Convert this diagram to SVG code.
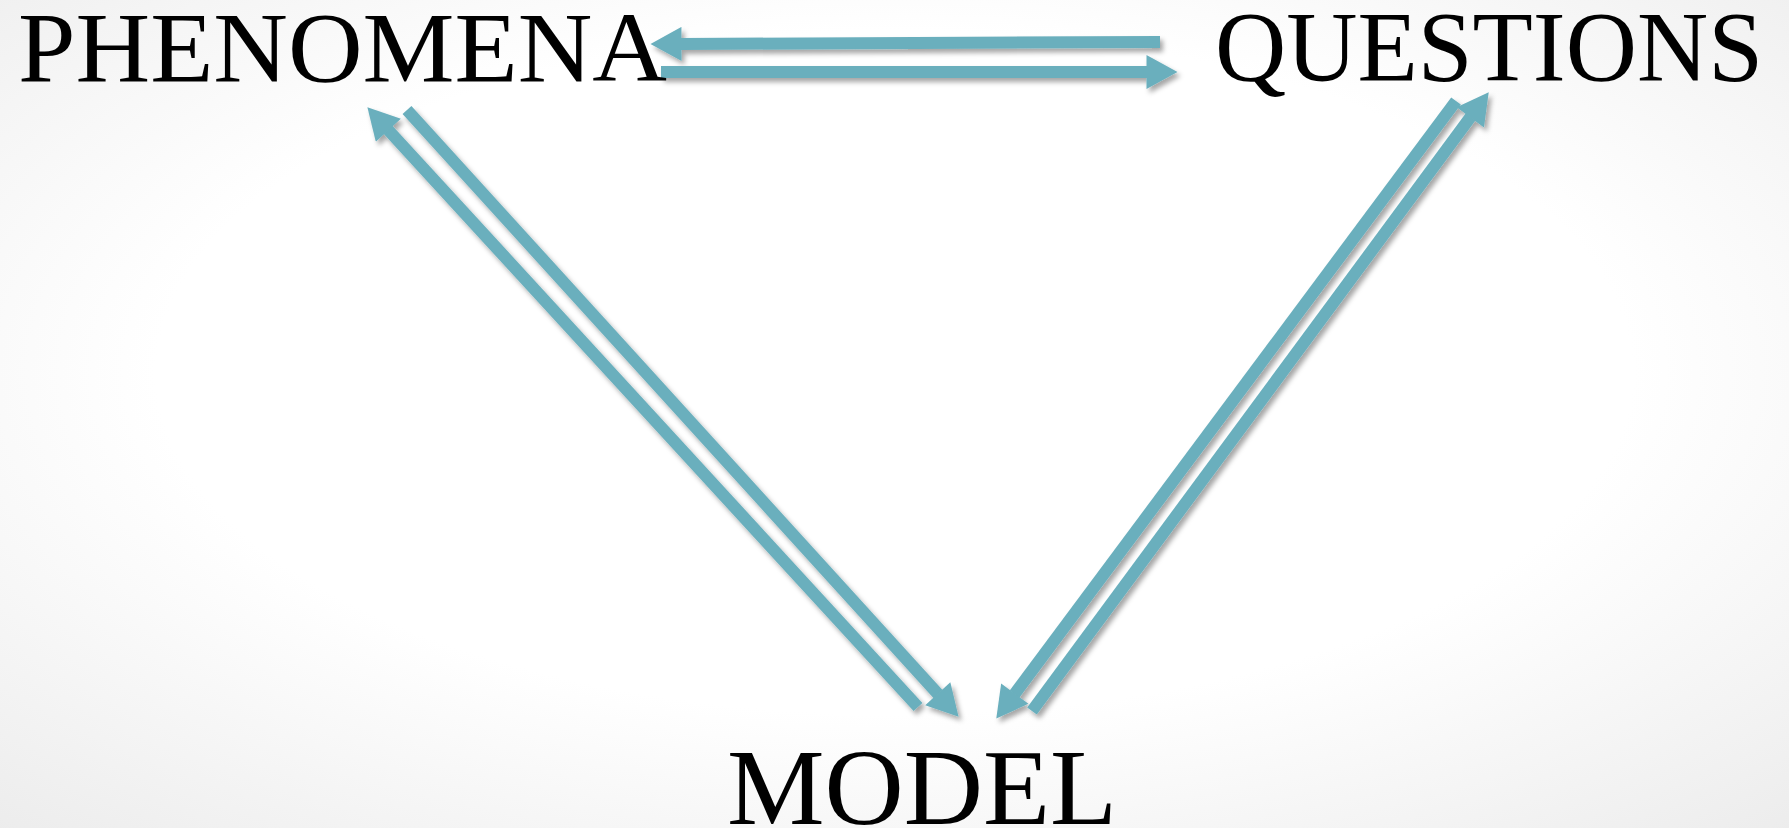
<svg xmlns="http://www.w3.org/2000/svg" width="1789" height="828" viewBox="0 0 1789 828">
<style>
.label{font-family:"Liberation Serif","Times New Roman",serif;fill:#000;}
.arrow{stroke:#6AAFBD;stroke-width:12;stroke-linecap:butt;fill:none;marker-end:url(#head);}
</style>
<defs>
<radialGradient id="bg" cx="50%" cy="45%" r="75%">
<stop offset="0" stop-color="#ffffff"/>
<stop offset="0.55" stop-color="#ffffff"/>
<stop offset="1" stop-color="#ececec"/>
</radialGradient>
<marker id="head" markerUnits="userSpaceOnUse" markerWidth="32" markerHeight="34" viewBox="0 0 31 34" refX="0.5" refY="17" orient="auto">
<path d="M0,0 L31,17 L0,34 Z" fill="#6AAFBD"/>
</marker>
<filter id="shadow" x="-10%" y="-10%" width="120%" height="120%">
<feDropShadow dx="3" dy="4" stdDeviation="2.5" flood-color="#000" flood-opacity="0.35"/>
</filter>
</defs>
<rect width="1789" height="828" fill="url(#bg)"/>
<g id="connectors" filter="url(#shadow)">
<line class="arrow" x1="1160" y1="42" x2="681" y2="43.9"/>
<line class="arrow" x1="661" y1="72" x2="1147" y2="72"/>
<line class="arrow" x1="918" y1="707" x2="388" y2="129.8"/>
<line class="arrow" x1="407" y1="110" x2="938.1" y2="694.1"/>
<line class="arrow" x1="1456" y1="101" x2="1014.5" y2="694.1"/>
<line class="arrow" x1="1032" y1="711" x2="1470.6" y2="116.9"/>
</g>
<g id="phenomena">
<text class="label" x="18" y="81" font-size="100" textLength="649" lengthAdjust="spacingAndGlyphs">PHENOMENA</text>
</g>
<g id="questions">
<text class="label" x="1215" y="80" font-size="100" textLength="548" lengthAdjust="spacingAndGlyphs">QUESTIONS</text>
</g>
<g id="model">
<text class="label" x="727" y="824" font-size="109" textLength="390" lengthAdjust="spacingAndGlyphs">MODEL</text>
</g>
</svg>
